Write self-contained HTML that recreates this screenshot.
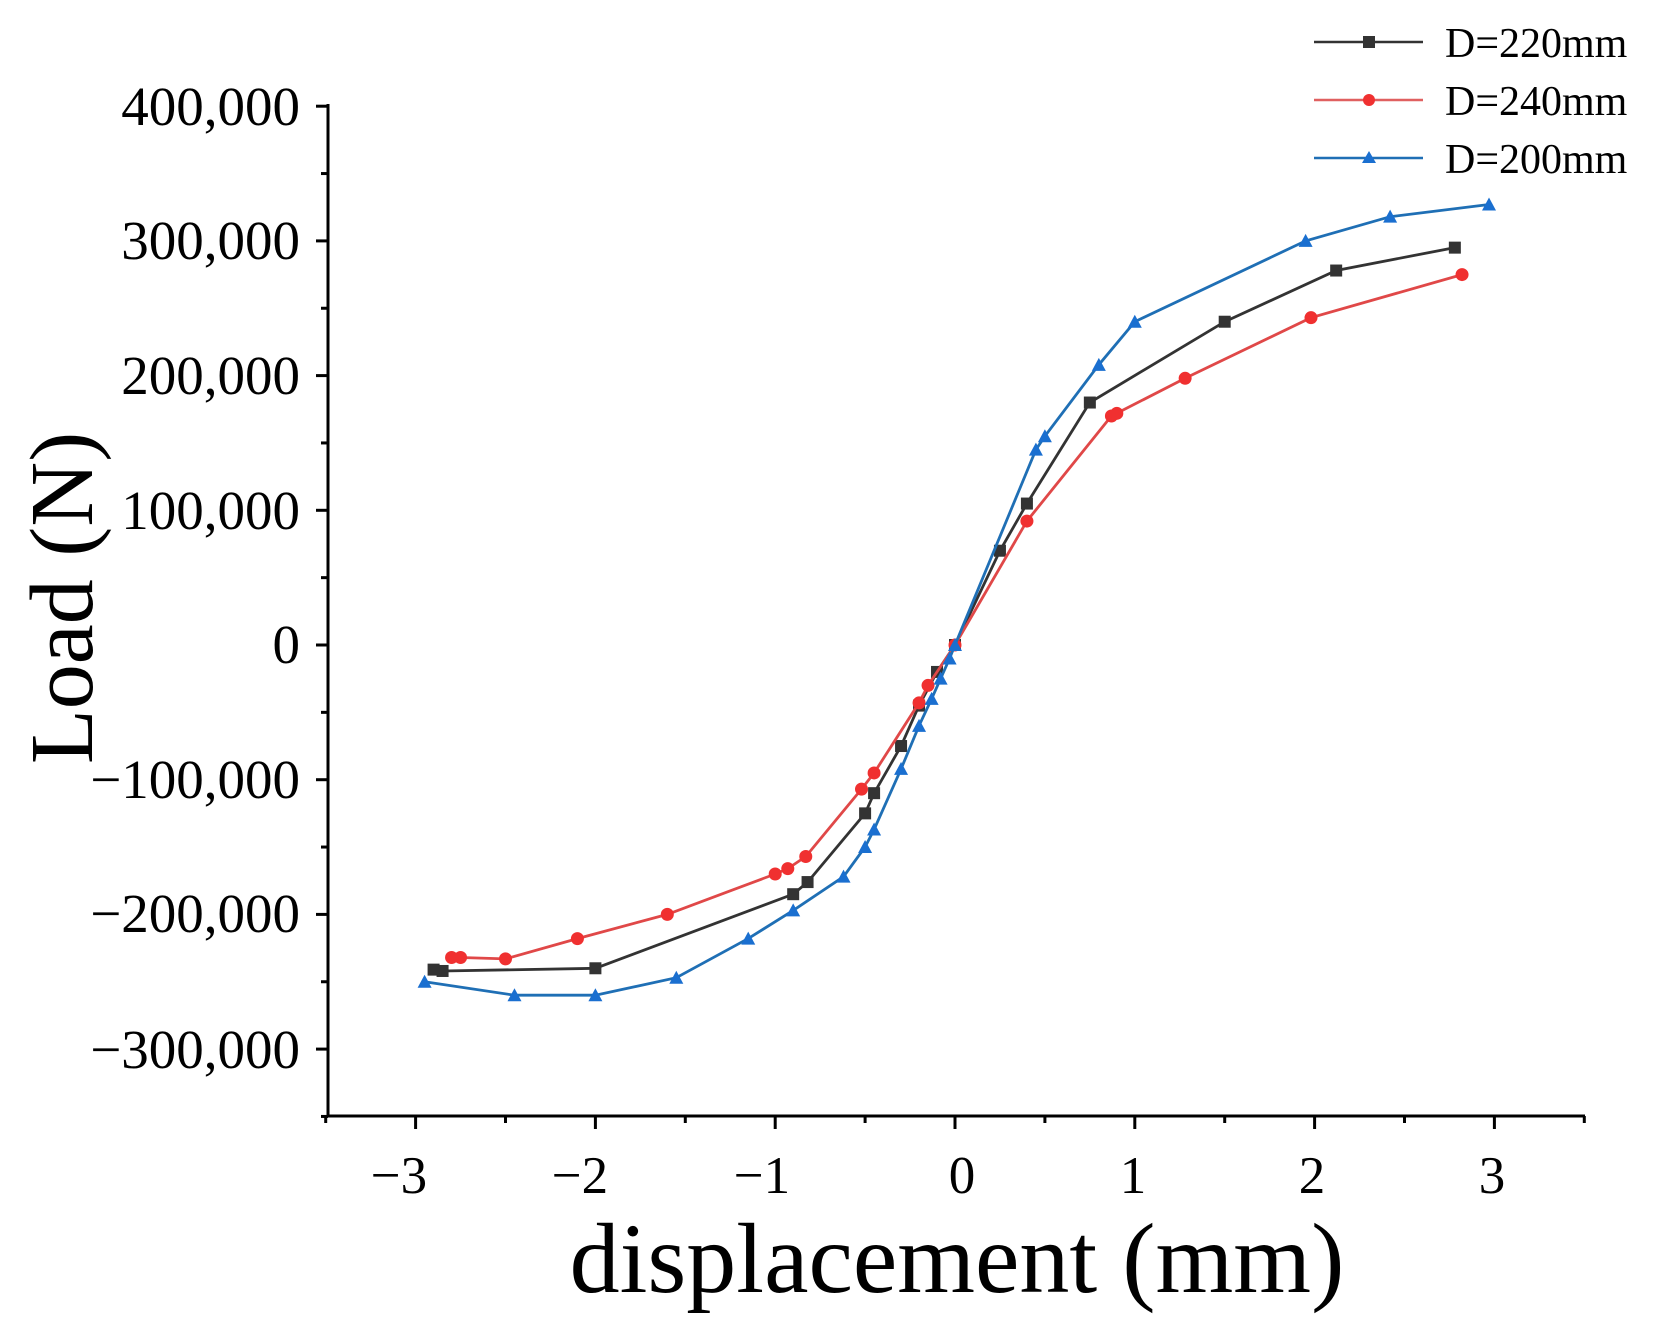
<!DOCTYPE html>
<html><head><meta charset="utf-8"><style>
html,body{margin:0;padding:0;background:#fff;}
svg{display:block;}
text{font-family:"Liberation Serif",serif;fill:#000;}
</style></head><body>
<svg id="s" width="1659" height="1344" viewBox="0 0 1659 1344" xmlns="http://www.w3.org/2000/svg">
<g stroke="#000" stroke-width="3" fill="none">
<line x1="328" y1="104" x2="328" y2="1117"/>
<line x1="327" y1="1116" x2="1585" y2="1116"/>
</g>
<g id="ticks" stroke="#000" stroke-width="3"></g>
<g font-size="55" text-anchor="end">
<text x="300" y="125">400,000</text>
<text x="300" y="259">300,000</text>
<text x="300" y="394">200,000</text>
<text x="300" y="529">100,000</text>
<text x="300" y="663">0</text>
<text x="300" y="798">−100,000</text>
<text x="300" y="932">−200,000</text>
<text x="300" y="1068">−300,000</text>
</g>
<g font-size="53" text-anchor="middle">
<text x="399" y="1193">−3</text>
<text x="580" y="1193">−2</text>
<text x="762" y="1193">−1</text>
<text x="962" y="1193">0</text>
<text x="1133" y="1193">1</text>
<text x="1312" y="1193">2</text>
<text x="1492" y="1193">3</text>
</g>
<text x="957" y="1292" font-size="100" text-anchor="middle">displacement (mm)</text>
<text transform="translate(92,598) rotate(-90)" font-size="90" text-anchor="middle">Load (N)</text>
<g id="data"></g>
<g font-size="42">
<line x1="1314" y1="42" x2="1423" y2="42" stroke="#333" stroke-width="2.5"/>
<rect x="1363" y="36" width="12" height="12" fill="#333"/>
<text x="1445" y="57">D=220mm</text>
<line x1="1314" y1="100" x2="1423" y2="100" stroke="#e06060" stroke-width="2.5"/>
<circle cx="1369" cy="100" r="6" fill="#f03030"/>
<text x="1445" y="115">D=240mm</text>
<line x1="1314" y1="158" x2="1423" y2="158" stroke="#1f6fb5" stroke-width="2.5"/>
<path d="M1369 151 L1376 163 L1362 163Z" fill="#1a6fd0"/>
<text x="1445" y="173">D=200mm</text>
</g>
</svg>
<script>
function X(v){return 955+179.8*v;}
function Y(v){return 645-0.001347*v;}
var t=document.getElementById("ticks"),h="";
for(var v=-350000;v<=400000;v+=50000){var major=v%100000==0;var y=Y(v);h+='<line x1="'+(major?316:321)+'" y1="'+y+'" x2="328" y2="'+y+'"/>';}
for(var k=-3.5;k<=3.5;k+=0.5){var x=X(k);var major=Math.abs(k%1)<1e-9;h+='<line x1="'+x+'" y1="1116" x2="'+x+'" y2="'+(major?1129:1123)+'"/>';}
t.innerHTML=h;
var S=[
{c:"#333",lc:"#333",m:"s",d:[[-2.9,-241e3],[-2.85,-242e3],[-2,-240e3],[-0.9,-185e3],[-0.82,-176e3],[-0.5,-125e3],[-0.45,-110e3],[-0.3,-75e3],[-0.2,-45e3],[-0.1,-20e3],[0,0],[0.25,70e3],[0.4,105e3],[0.75,180e3],[1.5,240e3],[2.12,278e3],[2.78,295e3]]},
{c:"#f03030",lc:"#e04848",m:"c",d:[[-2.8,-232e3],[-2.75,-232e3],[-2.5,-233e3],[-2.1,-218e3],[-1.6,-200e3],[-1,-170e3],[-0.93,-166e3],[-0.83,-157e3],[-0.52,-107e3],[-0.45,-95e3],[-0.2,-43e3],[-0.15,-30e3],[0,0],[0.4,92e3],[0.87,170e3],[0.9,172e3],[1.28,198e3],[1.98,243e3],[2.82,275e3]]},
{c:"#1a6fd0",lc:"#1f6fb5",m:"t",d:[[-2.95,-250e3],[-2.45,-260e3],[-2,-260e3],[-1.55,-247e3],[-1.15,-218e3],[-0.9,-197e3],[-0.62,-172e3],[-0.5,-150e3],[-0.45,-137e3],[-0.3,-92e3],[-0.2,-60e3],[-0.13,-40e3],[-0.08,-25e3],[-0.03,-10e3],[0,0],[0.45,145e3],[0.5,155e3],[0.8,208e3],[1,240e3],[1.95,300e3],[2.42,318e3],[2.97,327e3]]}
];
var g=document.getElementById("data"),o="";
S.forEach(function(s){
 var p=s.d.map(function(q){return X(q[0]).toFixed(1)+","+Y(q[1]).toFixed(1);}).join(" ");
 o+='<polyline points="'+p+'" fill="none" stroke="'+s.lc+'" stroke-width="2.8"/>';
 s.d.forEach(function(q){var x=X(q[0]),y=Y(q[1]);
  if(s.m=="s")o+='<rect x="'+(x-6)+'" y="'+(y-6)+'" width="12" height="12" fill="'+s.c+'"/>';
  else if(s.m=="c")o+='<circle cx="'+x+'" cy="'+y+'" r="6.5" fill="'+s.c+'"/>';
  else o+='<path d="M'+x+' '+(y-7)+' L'+(x+7)+' '+(y+6)+' L'+(x-7)+' '+(y+6)+'Z" fill="'+s.c+'"/>';
 });
});
g.innerHTML=o;
</script>
</body></html>
